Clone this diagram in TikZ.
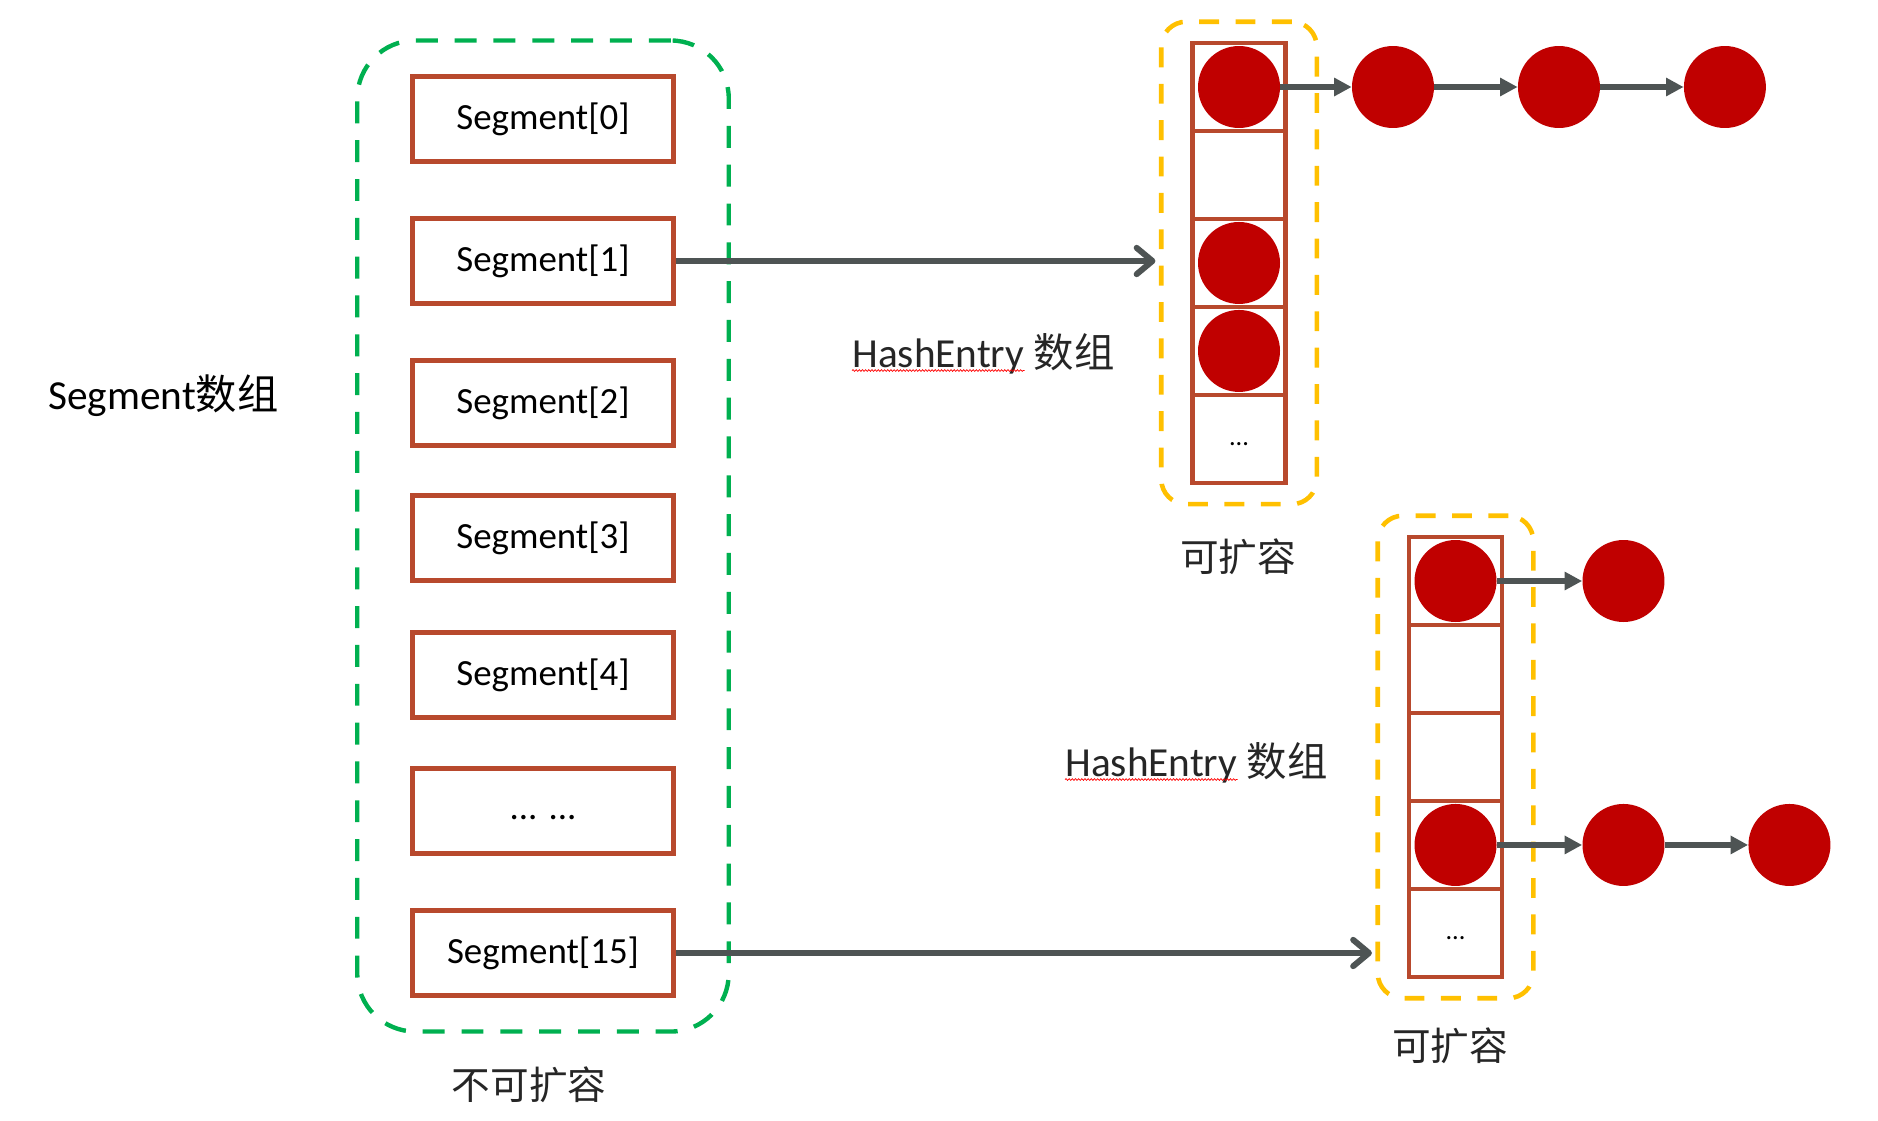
\documentclass[tikz,border=0pt]{standalone}
\usepackage{fontspec}
\setmainfont{Carlito}
\newfontfamily\cjk{Noto Sans CJK SC}
\usetikzlibrary{arrows.meta, fit, decorations.pathmorphing}
\definecolor{segred}{RGB}{184,73,45}
\definecolor{dotred}{RGB}{192,0,0}
\definecolor{arrowgray}{RGB}{78,84,84}
\definecolor{greendash}{RGB}{0,176,80}
\definecolor{yellowdash}{RGB}{255,192,0}
\definecolor{textgray}{RGB}{38,38,38}
\tikzstyle{segbox} = [rectangle, minimum width=5.22cm, minimum height=1.69cm, inner sep=0, draw=segred, line width=2.6pt, font=\fontsize{21}{25}\selectfont]
\tikzstyle{cell} = [rectangle, minimum width=1.86cm, minimum height=1.76cm, inner sep=0, draw=segred, line width=2.6pt, font=\fontsize{15}{18}\selectfont]
\tikzstyle{entry} = [circle, fill=dotred, minimum size=1.64cm, inner sep=0]
\tikzstyle{segframe} = [rectangle, rounded corners=1.16cm, draw=greendash, line width=2.5pt, dash pattern=on 12.5pt off 9.6pt, inner xsep=1.06cm, inner ysep=0.68cm]
\tikzstyle{hashframe} = [rectangle, rounded corners=0.5cm, draw=yellowdash, line width=2.6pt, dash pattern=on 11.3pt off 9.4pt, inner xsep=0.58cm, inner ysep=0.38cm]
\tikzstyle{ptr} = [line width=3.4pt, draw=arrowgray, shorten >=2pt, -{Straight Barb[round, length=9pt, width=15pt]}]
\tikzstyle{link} = [line width=3.4pt, draw=arrowgray, -{Triangle[length=10pt, width=10pt]}]
\tikzstyle{lbl} = [inner sep=0, text=textgray, font=\fontsize{23.5}{28}\selectfont]
\tikzstyle{cjklbl} = [inner sep=0, text=textgray, font=\cjk\fontsize{22}{26}\selectfont]
\tikzstyle{wavy} = [draw=red, line width=0.4pt, decorate, decoration={snake, amplitude=0.5pt, segment length=1.8pt}]

\begin{document}
\begin{tikzpicture}[x=0.02cm, y=-0.02cm, node distance=1.76cm]
\useasboundingbox (0,0) rectangle (1878,1120);

% segment array
\node (s0) [segbox] at (543,119) {Segment[0]};
\node (s1) [segbox] at (543,261) {Segment[1]};
\node (s2) [segbox] at (543,403) {Segment[2]};
\node (s3) [segbox] at (543,538) {Segment[3]};
\node (s4) [segbox] at (543,675) {Segment[4]};
\node (s5) [segbox] at (543,811) {\vphantom{x}... ...};
\node (s15) [segbox] at (543,953) {Segment[15]};
\node (segs) [segframe, fit=(s0)(s15)] {};

% first HashEntry table
\node (a0) [cell] at (1239,87) {};
\node (a1) [cell, below of=a0] {};
\node (a2) [cell, below of=a1] {};
\node (a3) [cell, below of=a2] {};
\node (a4) [cell, below of=a3] {\vphantom{x}...};
\node (e0) [entry] at (a0) {};
\node (e2) [entry] at (a2) {};
\node (e3) [entry] at (a3) {};
\node (e01) [entry, right of=e0, xshift=1.32cm] {};
\node (e02) [entry, right of=e01, xshift=1.56cm] {};
\node (e03) [entry, right of=e02, xshift=1.56cm] {};
\node (hb1) [hashframe, fit=(a0)(a4)] {};

% second HashEntry table
\node (b0) [cell] at (1455.5,581) {};
\node (b1) [cell, below of=b0] {};
\node (b2) [cell, below of=b1] {};
\node (b3) [cell, below of=b2] {};
\node (b4) [cell, below of=b3] {\vphantom{x}...};
\node (f0) [entry] at (b0) {};
\node (f3) [entry] at (b3) {};
\node (f01) [entry, right of=f0, xshift=1.6cm] {};
\node (f31) [entry, right of=f3, xshift=1.6cm] {};
\node (f32) [entry, right of=f31, xshift=1.56cm] {};
\node (hb2) [hashframe, fit=(b0)(b4)] {};

\draw [ptr] (s1.east) -- (s1.east -| hb1.west);
\draw [ptr] (s15.east) -- (s15.east -| hb2.west);
\draw [link] (e0) -- (e01);
\draw [link] (e01) -- (e02);
\draw [link] (e02) -- (e03);
\draw [link] (f0) -- (f01);
\draw [link] (f3) -- (f31);
\draw [link] (f31) -- (f32);

% labels
\node (segarr) [lbl, anchor=west, text=black] at (48,396) {Segment{\cjk 数组}};
\node (he1) [lbl, anchor=base west] at (852,367) {HashEntry};
\node (hz1) [lbl, anchor=base west, font=\cjk\fontsize{23}{28}\selectfont, xshift=5pt] at (he1.base east) {数组};
\draw [wavy] ([yshift=-2pt]he1.base west) -- ([yshift=-2pt]he1.base east);
\node (he2) [lbl, anchor=base west] at (1065,776) {HashEntry};
\node (hz2) [lbl, anchor=base west, font=\cjk\fontsize{23}{28}\selectfont, xshift=5pt] at (he2.base east) {数组};
\draw [wavy] ([yshift=-2pt]he2.base west) -- ([yshift=-2pt]he2.base east);
\node (exp1) [cjklbl] at (1238,557) {可扩容};
\node (exp2) [cjklbl] at (1450,1046) {可扩容};
\node (noexp) [cjklbl] at (529,1085) {不可扩容};

\end{tikzpicture}
\end{document}
